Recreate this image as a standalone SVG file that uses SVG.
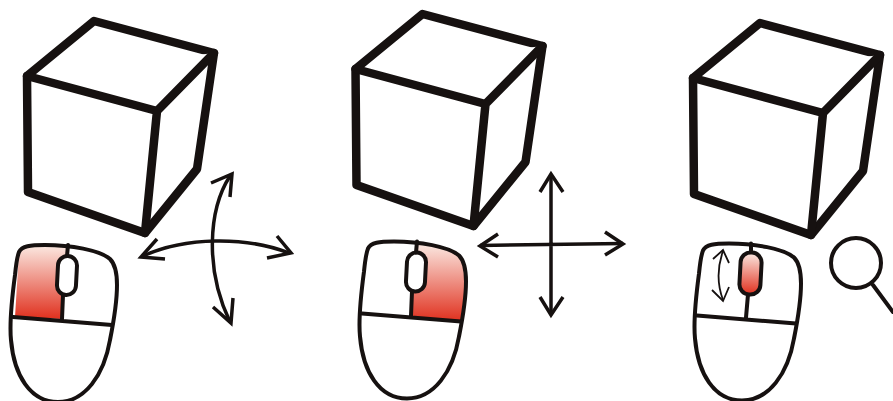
<svg xmlns="http://www.w3.org/2000/svg" width="893" height="401" viewBox="0 0 893 401">
<style>
.cube{fill:#fff;stroke:#161110;stroke-width:8.500;stroke-linejoin:round;stroke-linecap:round}
.m{fill:none;stroke:#161110;stroke-width:4;stroke-linejoin:round;stroke-linecap:round}
.a{fill:none;stroke:#161110;stroke-width:3.500;stroke-linecap:butt;stroke-linejoin:miter}
.t{fill:none;stroke:#161110;stroke-width:1.800}
</style>
<defs>
<linearGradient id="red" x1="0" y1="0" x2="0" y2="1"><stop offset="0" stop-color="#fbe9e2"/><stop offset="1" stop-color="#e0301e"/></linearGradient>
<g id="cubeShape"><path class="cube" d="M94 21L214 53L197 169L145 233L28 192L27 76Z"/><path class="cube" d="M27 76L157 111L214 53M157 111L145 233"/></g>
<path id="mouseBody" d="M19 252C22 246 30 245 45 245C70 245 100 250 110 259C116 265 117 275 117 285C117 300 114 320 110 340C104 375 85 402 58 402C30 402 14 375 11 340C9 320 13 290 15 275C16 265 17 257 19 252Z"/>
</defs>
<g id="cube-1"><use href="#cubeShape"/></g>
<g id="cube-2"><use href="#cubeShape" transform="translate(328.500,-7)"/></g>
<g id="cube-3"><use href="#cubeShape" transform="translate(666,2)"/></g>

<g id="mouse-1">
<path fill="url(#red)" d="M15 317L19 252C22 246 30 245 45 245L67 247L66 256C60 256 58 262 58 270L58 284C58 290 60 294 64 295L62 319Z"/>
<use href="#mouseBody" class="m"/>
<path class="m" d="M13 317L112 325M68 245L67 256M63 295L62 319"/>
<rect class="m" x="57.500" y="256" width="19" height="39" rx="9.500" transform="rotate(3 67 275)"/>
</g>
<g id="mouse-2" transform="translate(349,-3.500)">
<path fill="url(#red)" d="M68 247C85 248 100 251 110 259C116 265 117 275 117 285C117 298 115 312 112 325L62 320L63 295C70 295 76 290 76 280L76 266C76 260 73 256 68 256Z"/>
<use href="#mouseBody" class="m"/>
<path class="m" d="M13 317L112 325M68 245L67 256M63 295L62 319"/>
<rect class="m" x="57.500" y="256" width="19" height="39" rx="9.500" transform="rotate(3 67 275)"/>
</g>
<g id="mouse-3" transform="translate(684,-1.500)">
<use href="#mouseBody" class="m"/>
<path class="m" d="M13 317L112 325M67 245L67 255M64 296L62 319"/>
<rect x="56" y="254" width="21" height="42" rx="10" fill="url(#red)" stroke="#161110" stroke-width="4" transform="rotate(3 66 275)"/>
</g>
<g id="magnifier">
<circle class="m" cx="856" cy="263" r="25"/>
<path class="m" d="M873 285L893 312"/>
</g>

<g id="connectors">
<path class="a" d="M143 256C185 237 245 236 289 253"/>
<path class="a" d="M157 239L141 257L165 259M277 236L291 253L267 258"/>
<path class="a" d="M230 176C208 210 205 270 230 322"/>
<path class="a" d="M211 183L232 174L230 197M213 307L231 323L233 298"/>
<path class="a" d="M551 174V315M480 245.500L623 243.500"/>
<path class="a" d="M540 192L551 174L563 192M540 297L551 315L563 297M498 234L480 246L498 257M605 232L623 244L605 255"/>
<path class="t" d="M723 251C717 268 717 284 723 300"/>
<path class="t" d="M713 259L723 250L729 263M712 290L723 301L729 287"/>
</g>
</svg>
